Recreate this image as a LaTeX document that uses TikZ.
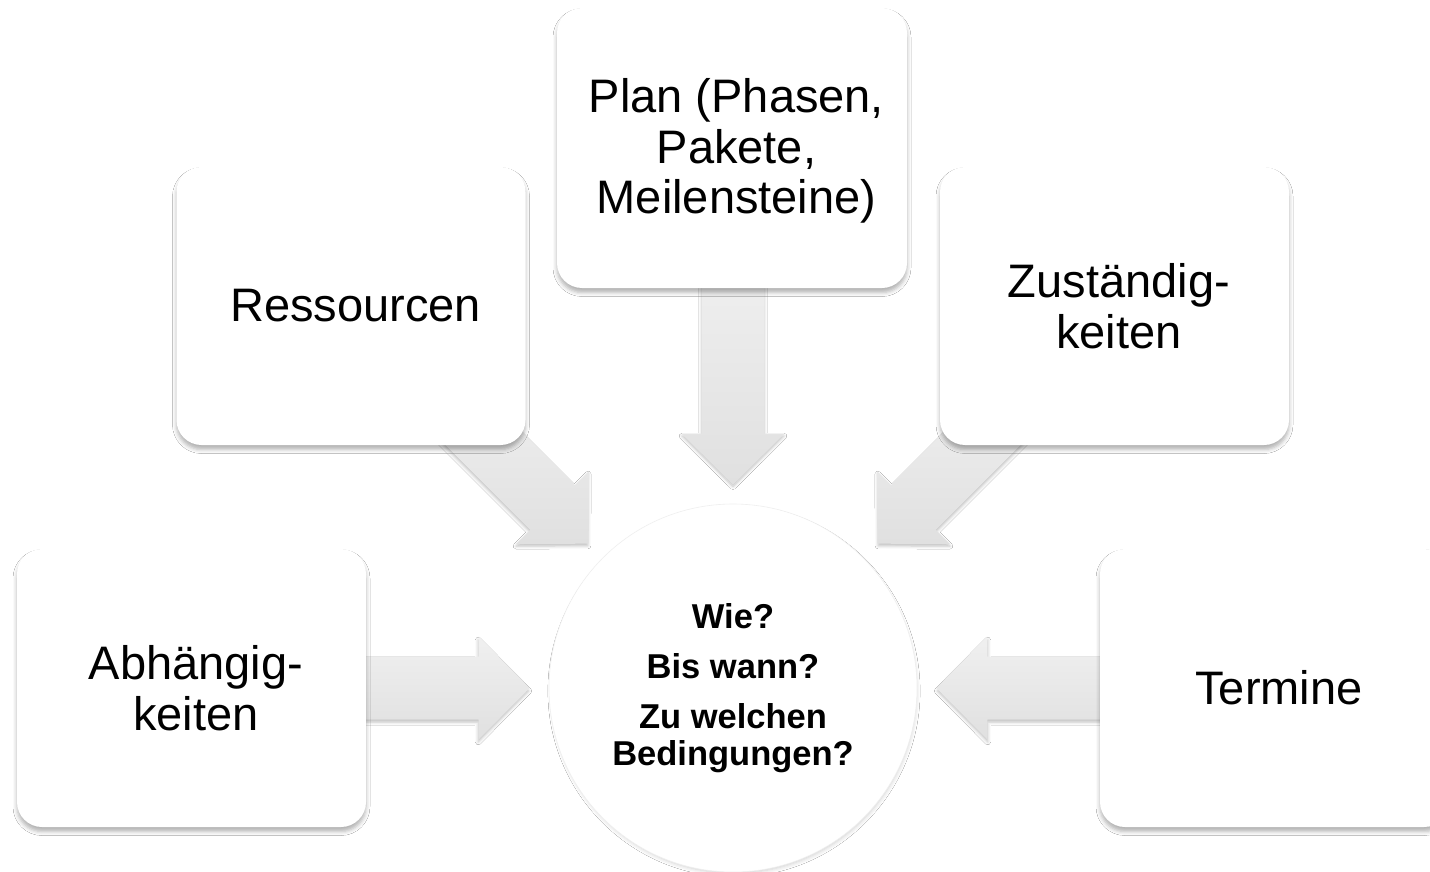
\documentclass[tikz,border=0pt]{standalone}
\usepackage{fontspec}
\setmainfont{Liberation Sans}
\usetikzlibrary{calc,shadows.blur,backgrounds}

\definecolor{arrowtop}{HTML}{F0F0F0}
\definecolor{arrowbottom}{HTML}{E0E0E0}
\definecolor{hubline}{HTML}{EFEFEF}

% small lead-in that sets each centred box line a little to the right
\newcommand\lead{\hspace*{9pt}}

\tikzset{
  boxnode/.style={rectangle, rounded corners=25pt, fill=white,
    minimum width=349pt, minimum height=278pt, inner sep=0pt, align=center,
    font=\fontsize{47}{50.5}\selectfont,
    blur shadow={shadow xshift=0pt, shadow yshift=-4.5pt, shadow scale=1,
      shadow blur radius=4pt, shadow opacity=30}},
  hubnode/.style={circle, fill=white, draw=hubline, line width=0.6pt,
    minimum size=368pt, inner sep=0pt, align=center,
    font=\fontsize{34.5}{37}\selectfont\bfseries,
    blur shadow={shadow xshift=1pt, shadow yshift=-3pt, shadow scale=0.99,
      shadow blur radius=4pt, shadow opacity=20}},
  blockarrow/.style={top color=arrowtop, bottom color=arrowbottom, draw=none,
    blur shadow={shadow xshift=0pt, shadow yshift=-3pt, shadow scale=0.99,
      shadow blur radius=3pt, shadow opacity=25}}
}

% Block arrow: #1 tip coordinate, #2 direction (0 right, 90 down), #3 total length
\newcommand\flowarrow[3]{%
  \path[blockarrow]
    (#1)
    -- ($(#1)+(#2+180:51)+(#2+90:51.5)$)
    -- ($(#1)+(#2+180:51)+(#2+90:31.5)$)
    -- ($(#1)+(#2+180:#3)+(#2+90:31.5)$)
    -- ($(#1)+(#2+180:#3)+(#2-90:31.5)$)
    -- ($(#1)+(#2+180:51)+(#2-90:31.5)$)
    -- ($(#1)+(#2+180:51)+(#2-90:51.5)$)
    -- cycle;}

\begin{document}
\begin{tikzpicture}[x=1pt, y=-1pt]
  \clip (0,0) rectangle (1430,872);

  % centre circle
  \node[hubnode] (hub) at (733,688)
    {Wie?\\[13pt]Bis wann?\\[13pt]Zu welchen\\Bedingungen?};

  % surrounding boxes
  \node[boxnode] (dep) at (191.5,688) {\lead Abhängig-\\\lead keiten};
  \node[boxnode] (res) at (351,306) {\lead Ressourcen};
  \node[boxnode, minimum width=350pt, minimum height=280pt] (plan) at (732,148)
    {\rule{0pt}{40pt}\lead Plan (Phasen,\\\lead Pakete,\\\lead Meilensteine)};
  \node[boxnode] (zus) at (1114.5,306) {\lead Zuständig-\\\lead keiten};
  \node[boxnode] (ter) at (1274.5,688) {\lead Termine};

  % arrow tips just outside the circle
  \coordinate (tipdep)  at ($(hub.west)+(-19,0)$);
  \coordinate (tipter)  at ($(hub.east)+(19,0)$);
  \coordinate (tipplan) at ($(hub.north)+(0,-19)$);
  \coordinate (tipres)  at ($(hub.north west)+(-14,-14)$);
  \coordinate (tipzus)  at ($(hub.north east)+(14,-14)$);

  \begin{pgfonlayer}{background}
    \fill[white] (0,0) rectangle (1430,872);
    \flowarrow{tipdep}{0}{200}
    \flowarrow{tipter}{180}{200}
    \flowarrow{tipplan}{90}{230}
    \flowarrow{tipres}{45}{200}
    \flowarrow{tipzus}{135}{200}
  \end{pgfonlayer}
\end{tikzpicture}
\end{document}
